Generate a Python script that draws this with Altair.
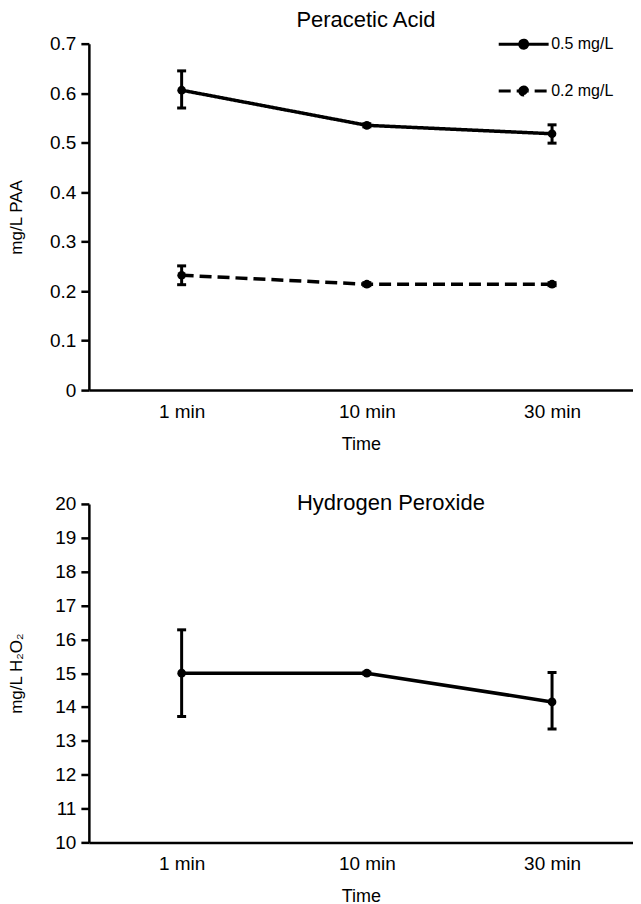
import altair as alt
import pandas as pd

# ---- data ----
times = ["1 min", "10 min", "30 min"]
series = ["0.5 mg/L", "0.2 mg/L"]

paa_high = [0.606, 0.535, 0.518]
paa_high_lo = [0.570, 0.532, 0.499]
paa_high_hi = [0.645, 0.538, 0.536]

paa_low = [0.232, 0.214, 0.214]
paa_low_lo = [0.213, 0.211, 0.211]
paa_low_hi = [0.251, 0.217, 0.217]

h2o2 = [15.0, 15.0, 14.15]
h2o2_lo = [13.72, 14.97, 13.35]
h2o2_hi = [16.28, 15.03, 15.02]

paa_ticks = [0, 0.1, 0.2, 0.3, 0.4, 0.5, 0.6, 0.7]
h2o2_ticks = [10, 11, 12, 13, 14, 15, 16, 17, 18, 19, 20]

# ---- tables ----
paa_df = pd.DataFrame({
    "time": times * 2,
    "series": [series[0]] * 3 + [series[1]] * 3,
    "value": paa_high + paa_low,
    "lo": paa_high_lo + paa_low_lo,
    "hi": paa_high_hi + paa_low_hi,
})
h2o2_df = pd.DataFrame({"time": times, "value": h2o2, "lo": h2o2_lo, "hi": h2o2_hi})

FONT = "Liberation Sans"
W = 545

x_axis = alt.Axis(title="Time", ticks=False, labelAngle=0, labelPadding=12,
                  titlePadding=14, labelFontSize=19, titleFontSize=18,
                  titleFontWeight="normal", domainWidth=2.5, domainColor="black",
                  labelColor="black", titleColor="black", labelFont=FONT, titleFont=FONT)
x_scale = alt.Scale(type="point", padding=0.469, align=0.534)
xs = alt.X("time:N", sort=times, scale=x_scale, axis=x_axis)


def y_axis(title, values, fmt):
    return alt.Axis(title=title, values=values, format=fmt, grid=False,
                    tickSize=8, tickWidth=2.5, tickColor="black",
                    domainWidth=2.5, domainColor="black", labelPadding=5,
                    labelFontSize=19, titleFontSize=17, titleFontWeight="normal",
                    labelColor="black", titleColor="black", titleX=-63,
                    labelOverlap=False, labelFont=FONT, titleFont=FONT)


# legend symbol: a line with a dot, drawn in symbol units (size 400 -> 10 px per unit)
legend_path = "M-1,0H4M1.1,0A0.4,0.4,0,1,1,1.9,0A0.4,0.4,0,1,1,1.1,0Z"

dash = alt.StrokeDash(
    "series:N",
    scale=alt.Scale(domain=series, range=[[1, 0], [12, 6]]),
    legend=alt.Legend(title=None, orient="none", legendX=409, legendY=-11,
                      symbolType=legend_path, symbolSize=400, symbolStrokeWidth=3,
                      symbolStrokeColor="black", symbolFillColor="black",
                      rowPadding=25, labelFontSize=16, labelFont=FONT,
                      labelColor="black", labelOffset=31),
)

tick_kw = dict(color="black", orient="horizontal", size=9, thickness=3, opacity=1)


def panel(df, domain, ticks, fmt, ytitle, with_dash):
    ax = y_axis(ytitle, ticks, fmt)
    sc = alt.Scale(domain=domain, nice=False)

    def Y(field):
        return alt.Y(field, scale=sc, axis=ax, title=ytitle)

    base = alt.Chart(df)
    line_enc = dict(x=xs, y=Y("value:Q"))
    if with_dash:
        line_enc.update(strokeDash=dash, detail="series:N")
    line = base.mark_line(color="black", strokeWidth=3.5).encode(**line_enc)
    rule = base.mark_rule(color="black", strokeWidth=3).encode(x=xs, y=Y("lo:Q"), y2="hi:Q")
    lo = base.mark_tick(**tick_kw).encode(x=xs, y=Y("lo:Q"))
    hi = base.mark_tick(**tick_kw).encode(x=xs, y=Y("hi:Q"))
    pts = base.mark_circle(color="black", size=75, opacity=1).encode(x=xs, y=Y("value:Q"))
    return alt.layer(line, rule, lo, hi, pts)


top = panel(paa_df, [0, 0.7], paa_ticks, ".1~f", "mg/L PAA", True).properties(
    width=W, height=347,
    title=alt.TitleParams("Peracetic Acid", fontSize=22, fontWeight="normal",
                          font=FONT, color="black", dx=5, offset=3),
)

bottom = panel(h2o2_df, [10, 20], h2o2_ticks, "d", "mg/L H₂O₂", False).properties(
    width=W, height=339,
    title=alt.TitleParams("Hydrogen Peroxide", fontSize=22, fontWeight="normal",
                          font=FONT, color="black", dx=30, offset=-20),
)

chart = alt.vconcat(top, bottom, spacing=39).properties(
    padding=0, background="white").configure_view(stroke=None)

chart.save("out.html", embed_options={"renderer": "svg", "actions": False})
